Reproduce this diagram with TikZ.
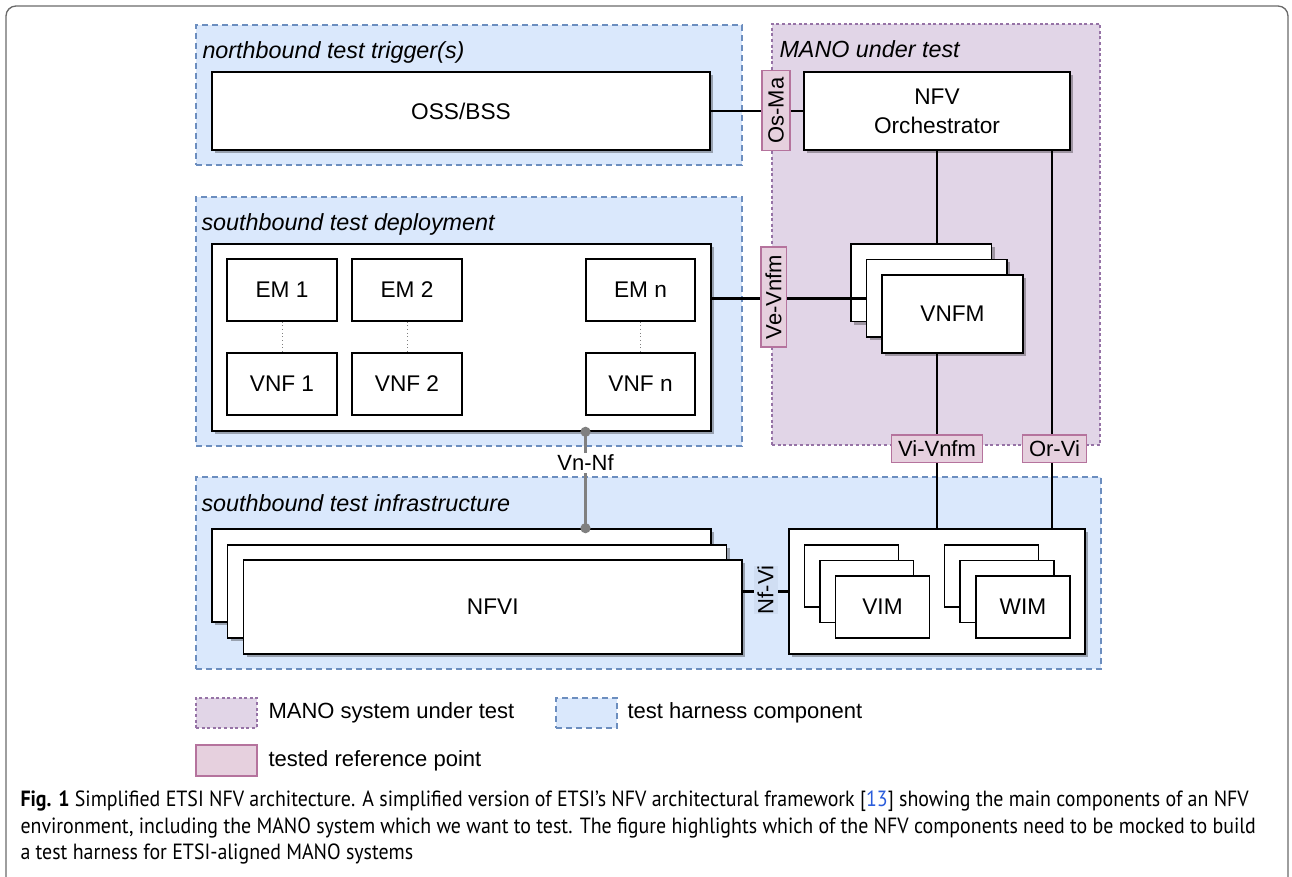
\documentclass[tikz,border=0pt]{standalone}
\usepackage{fontspec}
\setmainfont{Liberation Sans}
\newfontfamily\capfont[FakeStretch=0.905]{PT Sans}
\usetikzlibrary{fit,shadows,arrows.meta}

\definecolor{harnessfill}{HTML}{DAE8FC}
\definecolor{harnessline}{HTML}{6C8EBF}
\definecolor{manofill}{HTML}{E1D5E7}
\definecolor{manoline}{HTML}{9673A6}
\definecolor{reffill}{HTML}{E6D0DE}
\definecolor{refline}{HTML}{B5739D}
\definecolor{nfvibg}{HTML}{D0DEF3}
\definecolor{citeblue}{HTML}{2A5CDB}
\definecolor{framegray}{HTML}{6A6A6A}

\tikzset{every picture/.style={line width=0.75pt}}
\tikzset{
  harness/.style={draw=harnessline, fill=harnessfill, dash pattern=on 4.5pt off 3pt, line width=0.9pt, inner sep=0pt},
  mano/.style={draw=manoline, fill=manofill, dash pattern=on 2.2pt off 2pt, line width=2.2pt, inner sep=0pt},
  lbl/.style={inner sep=0pt, align=center, font=\fontsize{17}{21.5}\selectfont},
  plainbox/.style={draw, fill=white, line width=1.2pt, inner sep=0pt},
  box/.style={plainbox, drop shadow={shadow xshift=2.25pt, shadow yshift=-2.25pt, fill=black, opacity=0.3}},
  boxtext/.style={label={[lbl]center:{#1}}},
  refpt/.style={draw=refline, fill=reffill, line width=1pt, inner sep=0pt, font=\fontsize{16.5}{21}\selectfont},
  title/.style={anchor=base west, inner sep=0pt, font=\fontsize{17.5}{21}\selectfont\itshape},
  legtext/.style={anchor=west, inner sep=0pt, font=\fontsize{16.5}{21}\selectfont},
  captext/.style={anchor=base west, inner sep=0pt, font=\capfont\fontsize{16.5}{20}\selectfont},
  link/.style={line width=2.2pt},
  pairing/.style={gray, dotted, line width=0.75pt},
  vnnfline/.style={gray, line width=2pt, {Circle[length=7.5pt]}-{Circle[length=7.5pt]}, shorten <=-3.75pt, shorten >=-3.75pt}
}

\begin{document}
\begin{tikzpicture}[x=0.75pt,y=0.75pt,yscale=-1,xscale=1]
\useasboundingbox (0,0) rectangle (1292,877);

%Shape: Frame
\draw [framegray, line width=1pt, rounded corners=7.5pt] (6,877) -- (6,6) -- (1288,6) -- (1288,877);

%Shape: Rectangle (test harness areas)
\node [harness, fit={(196,25) (742,165)}] (north) {};
\node [harness, fit={(196,197) (742,446)}] (south) {};
\node [harness, fit={(196,477) (1101,669)}] (infra) {};
%Shape: Rectangle (MANO)
\node [mano, fit={(772,24) (1100,445)}] (manobox) {};

\node [title] (northtitle) at (202,59) {northbound test trigger(s)};
\node [title] (southtitle) at (201,231) {southbound test deployment};
\node [title] (infratitle) at (201,511) {southbound test infrastructure};
\node [title] (manotitle) at (779,58) {MANO under test};

%Shape: Rectangle (OSS/BSS and NFVO)
\node [box, fit={(212,72) (710,150)}, boxtext=OSS/BSS] (oss) {};
\node [box, fit={(804,72) (1070,150)}, boxtext=NFV\\Orchestrator] (nfvo) {};

%Shape: Rectangle (deployment)
\node [box, fit={(212,244) (711,431)}] (deploy) {};
\node [plainbox, fit={(227,259) (337,321)}, boxtext=EM 1] (em1) {};
\node [plainbox, fit={(352,259) (462,321)}, boxtext=EM 2] (em2) {};
\node [plainbox, fit={(586,259) (695,321)}, boxtext=EM n] (emn) {};
\node [plainbox, fit={(227,353) (337,415)}, boxtext=VNF 1] (vnf1) {};
\node [plainbox, fit={(352,353) (462,415)}, boxtext=VNF 2] (vnf2) {};
\node [plainbox, fit={(586,353) (695,415)}, boxtext=VNF n] (vnfn) {};
\draw [pairing] (em1) -- (vnf1);
\draw [pairing] (em2) -- (vnf2);
\draw [pairing] (emn) -- (vnfn);

%Shape: Rectangle (VNFM stack)
\node [box, fit={(851,244) (991.5,321.5)}] (vnfma) {};
\node [box, fit={(866.5,259.5) (1007,337)}] (vnfmb) {};
\node [box, fit={(882,275) (1023,353)}, boxtext=VNFM] (vnfmc) {};

%Shape: Rectangle (NFVI stack)
\node [box, fit={(212,529) (711,622)}] (nfvia) {};
\node [box, fit={(227.5,545) (726.5,638)}] (nfvib) {};
\node [box, fit={(243.5,560) (742,654)}, boxtext=NFVI] (nfvic) {};

%Shape: Rectangle (VIM / WIM)
\node [box, fit={(789,529) (1085,654)}] (viwi) {};
\node [plainbox, fit={(804.5,545) (898.5,607)}] (vima) {};
\node [plainbox, fit={(820,560.5) (913.5,622.5)}] (vimb) {};
\node [plainbox, fit={(835.5,576) (929.5,638)}, boxtext=VIM] (vimc) {};
\node [plainbox, fit={(944.5,545) (1038.5,607)}] (wima) {};
\node [plainbox, fit={(960,560.5) (1054,622.5)}] (wimb) {};
\node [plainbox, fit={(976,576) (1070,638)}, boxtext=WIM] (wimc) {};

\coordinate (orx) at (1052,0);
\coordinate (vnx) at (585.5,0);

%Connectors
\draw [link] (oss.east) -- (nfvo.west);
\draw [link] (vnfmb.west -| deploy.east) -- (vnfmb.west);
\draw [link] (nfvo.south) -- (nfvo.south |- vnfma.north);
\draw [link] (nfvo.south |- vnfmc.south) -- (nfvo.south |- viwi.north);
\draw [link] (nfvo.south -| orx) -- (viwi.north -| orx);
\draw [link] (viwi.west -| nfvic.east) -- (viwi.west);
\draw [vnnfline] (deploy.south -| vnx) -- (nfvia.north -| vnx);

%Reference points
\node [refpt, rotate=90, minimum width=60pt, minimum height=21pt] (osma) at (776,110.5) {Os-Ma};
\node [refpt, rotate=90, minimum width=75pt, minimum height=19pt] (vevnfm) at (773.5,297) {Ve-Vnfm};
\node [refpt, minimum width=68pt, minimum height=20.5pt] (vivnfm) at (937,448.5) {Vi-Vnfm};
\node [refpt, minimum width=48pt, minimum height=20.5pt] (orvi) at (1054.5,448.5) {Or-Vi};
\node [fill=nfvibg, rotate=90, inner sep=0pt, minimum width=34.5pt, minimum height=18pt, font=\fontsize{16.5}{21}\selectfont] (nfvi) at (765.5,590) {Nf-Vi};
\node [fill=white, inner sep=1.5pt, font=\fontsize{16.5}{21}\selectfont] (vnnf) at (585.5,463) {Vn-Nf};

%Legend
\node [mano, fit={(196,698) (257,728)}] (legmano) {};
\node [harness, fit={(556,698) (617,728)}] (legharness) {};
\node [refpt, fit={(196,745) (257,776)}] (legref) {};
\node [legtext] (legmanotext) at (268,713) {MANO system under test};
\node [legtext] (legharnesstext) at (627,713) {test harness component};
\node [legtext] (legreftext) at (268,760.5) {tested reference point};

%Caption
\node [captext] (cap1) at (20,806) {\textbf{Fig. 1} Simplified ETSI NFV architecture. A simplified version of ETSI’s NFV architectural framework [{\color{citeblue}13}] showing the main components of an NFV};
\node [captext] (cap2) at (20,833) {environment, including the MANO system which we want to test. The figure highlights which of the NFV components need to be mocked to build};
\node [captext] (cap3) at (20,859.5) {a test harness for ETSI-aligned MANO systems};

\end{tikzpicture}
\end{document}
